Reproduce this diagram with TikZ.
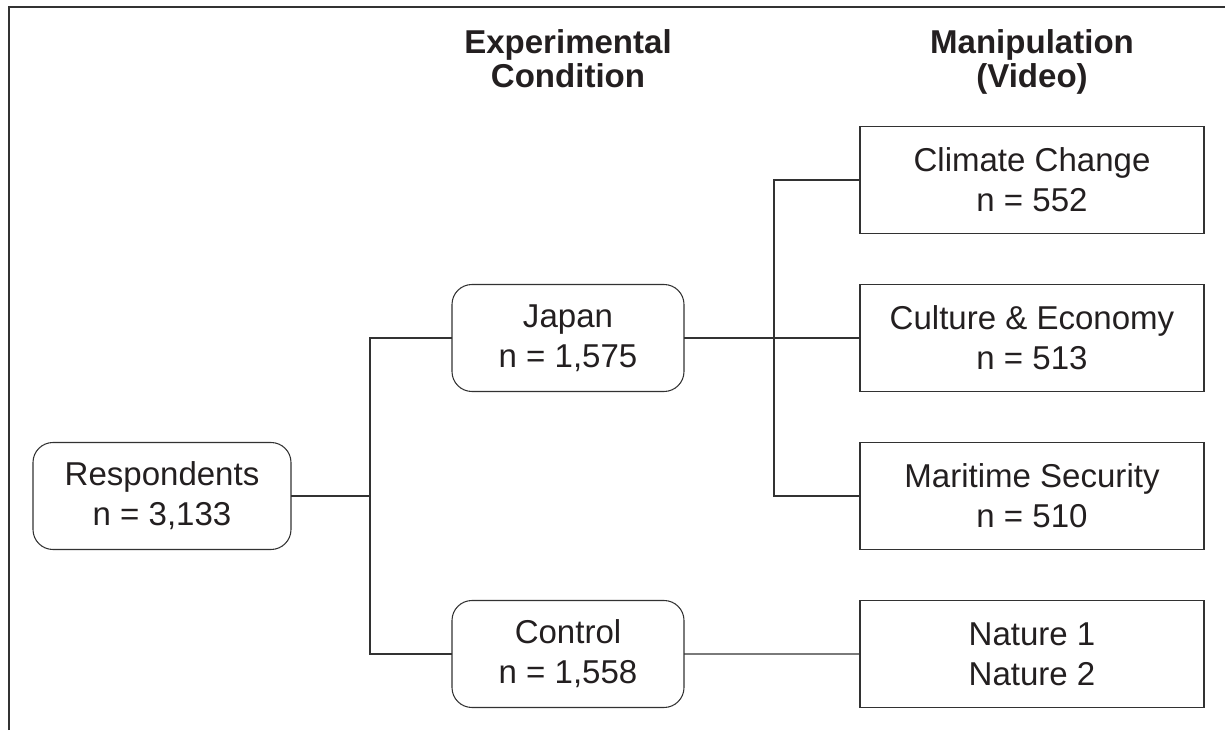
\documentclass[tikz,border=0pt]{standalone}
\usepackage{fontspec}
\setmainfont{Liberation Sans}
\usetikzlibrary{positioning,calc}
\definecolor{inkgray}{RGB}{35,31,32}
\definecolor{linegray}{RGB}{50,50,50}

\begin{document}
\begin{tikzpicture}[
    groupbox/.style={rectangle,rounded corners=0.4cm,draw=linegray,line width=0.6pt,minimum height=2.14cm,align=center,text=inkgray,inner sep=0pt,outer sep=0pt,font=\fontsize{18.8}{22.8}\selectfont},
    videobox/.style={rectangle,draw=linegray,line width=0.6pt,minimum width=6.88cm,minimum height=2.14cm,align=center,text=inkgray,inner sep=0pt,outer sep=0pt,font=\fontsize{18.8}{22.8}\selectfont},
    header/.style={anchor=north,align=center,text=inkgray,inner sep=0pt,font=\bfseries\fontsize{18.8}{19.4}\selectfont},
    link/.style={draw=linegray,line width=0.6pt}
]
    \useasboundingbox (0,0) rectangle (24.5,14.6);

    % Frame
    \draw[linegray,line width=1pt] (0.18,0) -- (0.18,14.46) -- (24.5,14.46);

    % Column headers
    \node[header] (condhead) at (11.36,14.01) {Experimental\\Condition};
    \node[header] (videohead) at (20.64,14.01) {Manipulation\\(Video)};

    % Respondents
    \node[groupbox,minimum width=5.16cm] (resp) at (3.24,4.68) {Respondents\\n = 3,133};

    % Experimental conditions
    \node[groupbox,minimum width=4.64cm] (japan) at (11.36,7.84) {Japan\\n = 1,575};
    \node[groupbox,minimum width=4.64cm] (control) at (11.36,1.52) {Control\\n = 1,558};

    % Videos
    \node[videobox] (climate) at (20.64,11.0) {Climate Change\\n = 552};
    \node[videobox,below=1.02cm of climate] (culture) {Culture \& Economy\\n = 513};
    \node[videobox,below=1.02cm of culture] (maritime) {Maritime Security\\n = 510};
    \node[videobox,below=1.02cm of maritime] (nature) {Nature 1\\Nature 2};

    % Split points
    \coordinate (split1) at (7.40,4.68);
    \coordinate (split2) at (15.48,7.84);

    % Connectors
    \draw[link] (resp.east) -- (split1);
    \draw[link] (japan.west) -| (split1) |- (control.west);
    \draw[link] (japan.east) -- (culture.west);
    \draw[link] (climate.west) -| (split2) |- (maritime.west);
    \draw[link] (control.east) -- (nature.west);
\end{tikzpicture}
\end{document}
